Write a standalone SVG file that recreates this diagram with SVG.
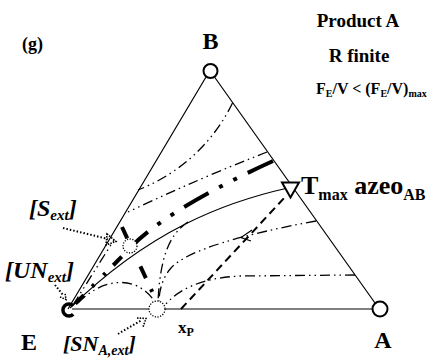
<svg xmlns="http://www.w3.org/2000/svg" width="429" height="359" viewBox="0 0 429 359">
<defs>
<style>
.t{font-family:"Liberation Serif","Times New Roman",serif;font-weight:bold;fill:#000}
.i{font-style:italic}
.edge{stroke:#000;stroke-width:1.2;fill:none}
.thin{stroke:#000;stroke-width:1.3;fill:none;stroke-dasharray:10 4 1.5 4 1.5 4}
.thick{stroke:#000;stroke-width:4;fill:none}
.dash{stroke:#000;stroke-width:2;fill:none;stroke-dasharray:8 5}
.dot{stroke:#000;stroke-width:2;fill:none;stroke-dasharray:1.5 2}
.node{fill:#fff;stroke:#000;stroke-width:2}
.pt{fill:#fff;stroke:#000;stroke-width:1.3;stroke-dasharray:1.2 1.5}
</style>
</defs>
<rect width="429" height="359" fill="#fff"/>
<g id="connectors">
<path class="edge" d="M206,77 L68,309 M214.5,77 L375,303 M72,309 L372.5,309"/>
<path class="thin" d="M232.5,103 C216,137 186,171 138,190"/>
<path class="thin" d="M267,152 Q200,178 128,212"/>
<path class="thick" style="stroke-dasharray:28 12 4 12 4 12" d="M273,161 C225,183 162,215 131,247"/>
<path class="thick" style="stroke-dasharray:12 11 3 13 3 12" d="M121.7,256.7 L70,309"/>
<path class="thick" style="stroke-dasharray:12.5 12 3 16 13 12 3 30" d="M122,227 L157,302"/>
<path class="edge" d="M288,188 C225,202 150,230 70,308"/>
<path class="thin" d="M73,305 L114,240"/>
<path class="thin" d="M78,303 C100,280 135,272 155,302"/>
<path class="thin" d="M188,222 C168,235 160,260 158,302"/>
<path class="thin" d="M316,221 C245,234 187,250 171,268 C162,278 159,292 159,302"/>
<path class="thin" d="M355,275 L240,276 C200,278 178,290 165,305"/>
<path class="dash" d="M181,309 L286,196"/>
<path class="edge" d="M252,230 L241,237.5 L251,241"/>
<path class="dot" d="M63,228 L108,239"/>
<path class="dot" d="M55,285 L63,295"/>
<path class="dot" d="M118,334 L142,320"/>
</g>
<g id="node-B"><circle class="node" cx="210.5" cy="71" r="7"/><text class="t" x="210.5" y="49" font-size="24" text-anchor="middle">B</text></g>
<g id="node-A"><circle class="node" cx="380" cy="309" r="7.5"/><text class="t" x="383" y="348" font-size="24" text-anchor="middle">A</text></g>
<g id="node-E"><path d="M73.2,305.8 A6,6 0 1 0 73.2,314.2" fill="none" stroke="#000" stroke-width="3.5"/><text class="t" x="29" y="350" font-size="24" text-anchor="middle">E</text></g>
<g id="node-Tmax"><path d="M282,182.5 L299,182.5 L290.5,197.5 Z" fill="#fff" stroke="#000" stroke-width="2"/><text class="t" x="301" y="194" font-size="26">T<tspan font-size="16" dy="6">max</tspan><tspan dy="-6"> azeo</tspan><tspan font-size="16" dy="6">AB</tspan></text></g>
<g id="node-Sext"><circle class="pt" cx="130" cy="246" r="7"/><path d="M107,234 L116,241.5 L106,245 Z" fill="none" stroke="#000" stroke-width="1.6" stroke-dasharray="1.5 1.2"/><text class="t i" x="29" y="216" font-size="24">[S<tspan font-size="15" dy="4">ext</tspan><tspan dy="-4">]</tspan></text></g>
<g id="node-UNext"><path d="M60,297 L66,299.5 L65,293" fill="none" stroke="#000" stroke-width="1.6" stroke-dasharray="1.5 1.2"/><text class="t i" x="5" y="278" font-size="24">[UN<tspan font-size="15" dy="4">ext</tspan><tspan dy="-4">]</tspan></text></g>
<g id="node-SNext"><circle class="pt" cx="157" cy="309" r="8"/><path d="M137,318 L146,318.5 L143,327" fill="none" stroke="#000" stroke-width="1.6" stroke-dasharray="1.5 1.2"/><text class="t i" x="63" y="351" font-size="22">[SN<tspan font-size="14" dy="4">A,ext</tspan><tspan dy="-4">]</tspan></text></g>
<g id="node-xP"><text class="t" x="178" y="333" font-size="17">x<tspan font-size="12" dy="3">P</tspan></text></g>
<g id="labels">
<text class="t" x="22" y="50" font-size="18">(g)</text>
<text class="t" x="358" y="27" font-size="19" text-anchor="middle">Product A</text>
<text class="t" x="359" y="62" font-size="19" text-anchor="middle">R finite</text>
<text class="t" x="316" y="94" font-size="16">F<tspan font-size="10" dy="3">E</tspan><tspan dy="-3">/V &lt; (F</tspan><tspan font-size="10" dy="3">E</tspan><tspan dy="-3">/V)</tspan><tspan font-size="10" dy="3">max</tspan></text>
</g>
</svg>
